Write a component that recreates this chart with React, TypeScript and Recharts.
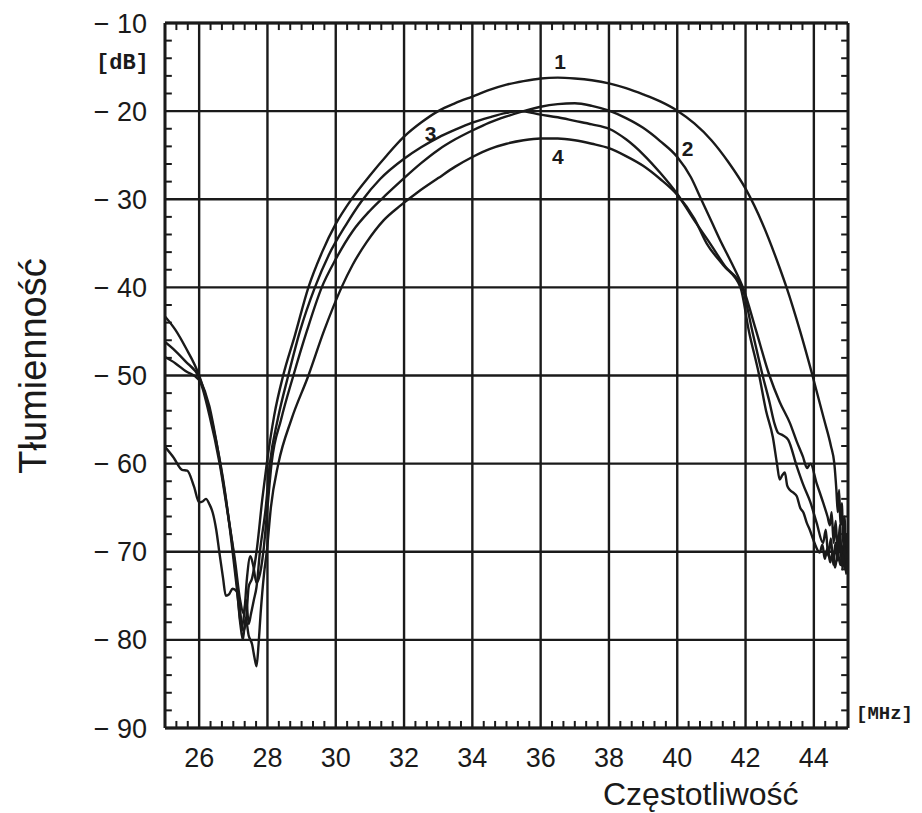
import { CartesianGrid, LineChart, Line, ReferenceDot, ReferenceLine, XAxis, YAxis } from "recharts";

// frequency [MHz], attenuation [dB]
const curve1: [number, number][] = [
  [25, -46.2], [25.3, -47.2], [25.6, -48.4], [26, -50.2], [26.3, -53.5], [26.55, -58.5], [26.8, -64.5],
  [27.0, -70], [27.15, -75], [27.3, -79], [27.38, -77.5], [27.45, -74], [27.55, -73], [27.68, -70],
  [27.85, -64], [27.98, -60], [28.2, -54.5], [28.46, -50], [28.8, -45.5], [29.2, -40], [29.6, -36],
  [30.0, -32.8], [30.46, -30], [31, -27.3], [31.5, -25], [32, -22.9], [32.5, -21.3], [33, -20],
  [33.5, -19.1], [34, -18.35], [34.5, -17.6], [35, -17.0], [35.5, -16.6], [36, -16.3], [36.5, -16.2],
  [37, -16.3], [37.5, -16.5], [38, -16.85], [38.5, -17.4], [39, -18.1], [39.5, -18.9], [40, -19.95],
  [40.5, -21.4], [41, -23.3], [41.5, -25.8], [42, -28.8], [42.5, -32.8], [43, -37.8], [43.2, -40],
  [43.6, -45], [43.96, -50], [44.3, -55], [44.5, -58], [44.6, -60], [44.66, -63], [44.7, -65.5],
  [44.74, -63], [44.78, -67], [44.82, -64.5], [44.86, -69], [44.9, -66], [44.94, -71.5], [44.97, -68],
  [45, -70.5],
];

const curve2: [number, number][] = [
  [25, -43.3], [25.3, -44.8], [25.6, -46.8], [26, -50], [26.3, -54], [26.5, -57.5], [26.75, -63],
  [26.95, -69], [27.1, -74], [27.25, -78.5], [27.32, -77], [27.4, -73], [27.5, -70.5], [27.58, -71.5],
  [27.68, -73.5], [27.75, -73], [27.88, -70], [28.0, -65], [28.12, -60], [28.4, -55], [28.76, -50],
  [29.15, -45], [29.59, -40], [30.0, -36.8], [30.5, -33.6], [31.0, -31.3], [31.5, -29.4], [32, -27.6],
  [32.5, -25.9], [33, -24.4], [33.5, -23.2], [34, -22.2], [34.5, -21.3], [35, -20.6], [35.5, -20.0],
  [36, -19.5], [36.5, -19.2], [37, -19.1], [37.5, -19.4], [38, -19.95], [38.5, -20.8], [39, -21.9],
  [39.5, -23.4], [40, -25.2], [40.4, -27.5], [40.7, -30], [41.0, -32.5], [41.3, -35], [41.6, -37.3],
  [41.95, -40.3], [42.3, -44.8], [42.7, -50], [43.0, -53], [43.3, -55.4], [43.5, -57.5], [43.68, -59.2],
  [43.8, -60.5], [43.9, -60], [44.08, -62.2], [44.27, -64.4], [44.4, -66], [44.47, -67], [44.52, -65.5],
  [44.58, -69], [44.64, -66.5], [44.7, -70.5], [44.76, -67], [44.82, -71.5], [44.88, -68.5],
  [44.94, -72.5], [45, -69.5],
];

const curve3: [number, number][] = [
  [25, -47.9], [25.3, -48.6], [25.6, -49.5], [26, -50.5], [26.3, -54.5], [26.6, -60], [26.85, -66],
  [27.05, -71], [27.2, -75.5], [27.3, -77], [27.38, -75.5], [27.45, -78.2], [27.52, -77], [27.6, -75.5],
  [27.68, -74], [27.78, -70], [27.95, -65], [28.07, -60], [28.3, -55], [28.61, -50], [28.95, -45],
  [29.39, -40], [29.8, -36.3], [30.3, -32.9], [30.76, -30.2], [31.3, -27.7], [32, -25.4], [32.5, -24.1],
  [33, -23.0], [33.5, -22.1], [34, -21.3], [34.5, -20.7], [35, -20.2], [35.4, -20.0], [36, -20.4],
  [36.5, -20.7], [37, -21.1], [37.5, -21.5], [38, -22.0], [38.5, -23.2], [39, -24.9], [39.5, -27],
  [40, -29.4], [40.5, -32.4], [40.96, -35], [41.4, -37.6], [41.9, -40], [42.2, -45], [42.5, -50],
  [42.7, -53], [42.85, -55.5], [42.95, -56.5], [43.1, -56.8], [43.25, -57.3], [43.5, -60.3],
  [43.7, -62.5], [43.9, -64.4], [44.08, -66.7], [44.27, -69], [44.35, -67.5], [44.42, -70.5],
  [44.5, -68.5], [44.57, -71.5], [44.63, -69], [44.7, -71], [44.77, -68.5], [44.84, -72], [44.9, -69.5],
  [44.96, -71.5], [45, -70],
];

const curve4: [number, number][] = [
  [25, -58.1], [25.25, -59.3], [25.5, -60.7], [25.65, -60.8], [25.85, -62.6], [26, -64.4], [26.1, -64.3],
  [26.2, -64], [26.3, -64.6], [26.4, -65.6], [26.5, -67.5], [26.6, -70.3], [26.7, -73], [26.78, -75],
  [26.88, -74.8], [26.98, -74.2], [27.1, -74.5], [27.2, -78], [27.28, -80], [27.36, -77.5], [27.45, -79.5],
  [27.55, -80.5], [27.62, -82], [27.68, -83], [27.74, -80.5], [27.8, -77], [27.9, -72.5], [27.98, -70],
  [28.1, -65], [28.32, -60], [28.7, -55], [29.2, -50], [29.65, -45], [30.17, -40], [30.5, -37.4],
  [30.9, -34.9], [31.4, -32.4], [31.9, -30.7], [32.4, -29.2], [33, -27.6], [33.5, -26.3], [34, -25.2],
  [34.5, -24.3], [35, -23.7], [35.5, -23.3], [36, -23.1], [36.5, -23.1], [37, -23.3], [37.5, -23.7],
  [38, -24.2], [38.5, -25.1], [39, -26.2], [39.5, -27.7], [40, -29.5], [40.5, -32.2], [40.86, -35],
  [41.35, -37.5], [41.85, -40], [42.1, -45], [42.4, -50], [42.6, -54], [42.8, -57], [42.92, -60],
  [43.0, -61.8], [43.08, -61.3], [43.15, -61], [43.22, -62.5], [43.3, -63], [43.4, -63.3], [43.5, -63.7],
  [43.6, -65], [43.7, -65.6], [43.79, -66.7], [43.88, -67.5], [43.98, -68.6], [44.07, -69.5],
  [44.17, -70.1], [44.25, -69.2], [44.32, -70.8], [44.4, -69.6], [44.48, -71.2], [44.55, -70],
  [44.62, -71.8], [44.7, -70.2], [44.78, -71.5], [44.85, -70.3], [44.92, -72], [45, -70.8],
];

const freqTicks = [26, 28, 30, 32, 34, 36, 38, 40, 42, 44];
const dbTicks = [-90, -80, -70, -60, -50, -40, -30, -20, -10];

// curve number labels: [label, freq, dB]
const curveLabels: [string, number, number][] = [
  ["1", 36.57, -14.4],
  ["2", 40.3, -24.2],
  ["3", 32.78, -22.6],
  ["4", 36.5, -25.1],
];

const ink = "#1a1a1a";
const toPoints = (c: [number, number][]) => c.map(([f, db]) => ({ f, db }));

// minor ticks: every 1/3 MHz and every 2 dB, pointing inward
const minorX: number[] = [];
for (let k = 1; k < 60; k++) if (k % 6 !== 3) minorX.push(25 + k / 3);
const minorY: number[] = [];
for (let v = -88; v < -10; v += 2) if (v % 10 !== 0) minorY.push(v);

const sans = "'Liberation Sans', Arial, sans-serif";
const mono = "'Liberation Mono', 'Courier New', monospace";

export default function App() {
  return (
    <div style={{ position: "absolute", left: 0, top: 0, width: 922, height: 813, background: "#fff" }}>
      <LineChart width={922} height={813} margin={{ top: 23, right: 74, bottom: 25, left: 95 }}>
        <CartesianGrid stroke={ink} strokeWidth={2.4} />
        <XAxis
          dataKey="f"
          type="number"
          domain={[25, 45]}
          ticks={freqTicks}
          height={60}
          tickSize={0}
          tickMargin={20}
          axisLine={{ stroke: ink, strokeWidth: 2.8 }}
          tick={{ fill: ink, fontSize: 27, fontFamily: sans }}
          allowDataOverflow
        />
        <YAxis
          type="number"
          domain={[-90, -10]}
          ticks={dbTicks}
          width={70}
          tickSize={0}
          tickMargin={18}
          axisLine={{ stroke: ink, strokeWidth: 2.8 }}
          tick={{ fill: ink, fontSize: 27, fontFamily: sans }}
          tickFormatter={(v: number) => `\u2212 ${Math.abs(v)}`}
          allowDataOverflow
        />
        <ReferenceLine x={45} stroke={ink} strokeWidth={2.8} />
        <ReferenceLine y={-10} stroke={ink} strokeWidth={2.8} />
        {minorX.map((f) => (
          <ReferenceLine key={`b${f}`} segment={[{ x: f, y: -90 }, { x: f, y: -89.2 }]} stroke={ink} strokeWidth={2} />
        ))}
        {minorX.map((f) => (
          <ReferenceLine key={`t${f}`} segment={[{ x: f, y: -10 }, { x: f, y: -10.8 }]} stroke={ink} strokeWidth={2} />
        ))}
        {minorY.map((v) => (
          <ReferenceLine key={`l${v}`} segment={[{ x: 25, y: v }, { x: 25.2, y: v }]} stroke={ink} strokeWidth={2} />
        ))}
        {minorY.map((v) => (
          <ReferenceLine key={`r${v}`} segment={[{ x: 44.8, y: v }, { x: 45, y: v }]} stroke={ink} strokeWidth={2} />
        ))}
        {[curve1, curve2, curve3, curve4].map((c, i) => (
          <Line
            key={i}
            data={toPoints(c)}
            dataKey="db"
            type="monotone"
            dot={false}
            stroke={ink}
            strokeWidth={2.4}
            isAnimationActive={false}
          />
        ))}
        {curveLabels.map(([t, f, db]) => (
          <ReferenceDot
            key={t}
            x={f}
            y={db}
            r={0}
            fill="none"
            stroke="none"
            label={{ value: t, position: "center", fill: ink, fontSize: 21, fontFamily: sans, fontWeight: 600 }}
          />
        ))}
      </LineChart>
      <div style={{ position: "absolute", left: 96, top: 53, fontFamily: mono, fontWeight: 700, fontSize: 22, lineHeight: 1, color: ink }}>
        [dB]
      </div>
      <div style={{ position: "absolute", left: 856, top: 705, fontFamily: mono, fontWeight: 700, fontSize: 19, lineHeight: 1, color: ink }}>
        [MHz]
      </div>
      <div
        style={{
          position: "absolute",
          left: 33,
          top: 366,
          transform: "translate(-50%, -50%) rotate(-90deg)",
          fontFamily: sans,
          fontSize: 38,
          lineHeight: 1,
          whiteSpace: "nowrap",
          color: ink,
        }}
      >
        Tłumienność
      </div>
      <div style={{ position: "absolute", left: 603, top: 778, fontFamily: sans, fontSize: 32, lineHeight: 1, whiteSpace: "nowrap", color: ink }}>
        Częstotliwość
      </div>
    </div>
  );
}
